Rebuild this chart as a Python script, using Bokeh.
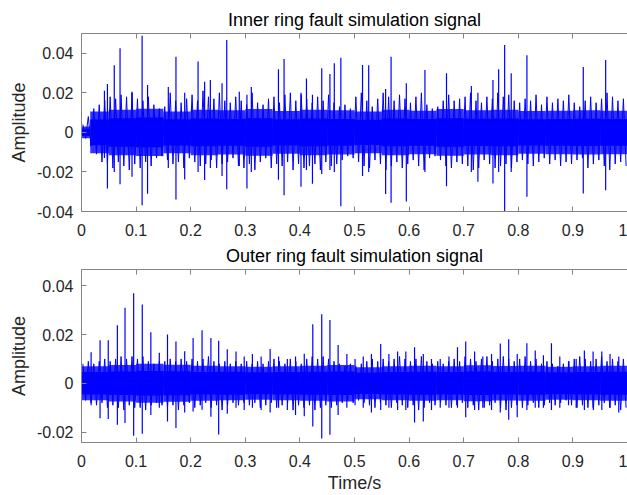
import numpy as np
from bokeh.plotting import figure
from bokeh.models import LinearAxis, FixedTicker, Range1d
from bokeh.layouts import column
from bokeh.embed import file_html
from bokeh.resources import INLINE

# ---------------- data ----------------
x_ticks = [0, 0.1, 0.2, 0.3, 0.4, 0.5, 0.6, 0.7, 0.8, 0.9, 1]
x_tick_labels = ["0", "0.1", "0.2", "0.3", "0.4", "0.5", "0.6", "0.7", "0.8", "0.9", "1"]

inner_y_ticks = [-0.04, -0.02, 0, 0.02, 0.04]
inner_y_tick_labels = ["-0.04", "-0.02", "0", "0.02", "0.04"]
outer_y_ticks = [-0.02, 0, 0.02, 0.04]
outer_y_tick_labels = ["-0.02", "0", "0.02", "0.04"]

titles = ["Inner ring fault simulation signal", "Outer ring fault simulation signal"]

# time grid of 0.01 s bins (bin centres)
bin_t = np.arange(100) * 0.01 + 0.005

inner_up = [0.004, 0.008, 0.012, 0.014, 0.016, 0.018, 0.017, 0.019, 0.018, 0.020,
            0.017, 0.016, 0.018, 0.014, 0.012, 0.013, 0.020, 0.016, 0.015, 0.017,
            0.019, 0.016, 0.021, 0.018, 0.017, 0.020, 0.016, 0.015, 0.018, 0.016,
            0.014, 0.020, 0.015, 0.014, 0.017, 0.018, 0.015, 0.019, 0.020, 0.016,
            0.019, 0.017, 0.015, 0.018, 0.016, 0.019, 0.015, 0.013, 0.014, 0.012,
            0.018, 0.020, 0.016, 0.013, 0.017, 0.020, 0.018, 0.016, 0.019, 0.017,
            0.015, 0.018, 0.020, 0.014, 0.012, 0.013, 0.016, 0.019, 0.016, 0.017,
            0.018, 0.020, 0.016, 0.015, 0.018, 0.017, 0.020, 0.018, 0.019, 0.016,
            0.015, 0.017, 0.016, 0.019, 0.014, 0.018, 0.015, 0.017, 0.016, 0.019,
            0.015, 0.013, 0.016, 0.018, 0.015, 0.017, 0.020, 0.018, 0.016, 0.017]
inner_dn = [-0.003, -0.007, -0.011, -0.015, -0.016, -0.018, -0.015, -0.017, -0.019, -0.016,
            -0.018, -0.015, -0.017, -0.013, -0.012, -0.014, -0.016, -0.015, -0.018, -0.013,
            -0.015, -0.017, -0.016, -0.014, -0.018, -0.016, -0.015, -0.013, -0.017, -0.018,
            -0.016, -0.019, -0.015, -0.013, -0.018, -0.016, -0.017, -0.015, -0.019, -0.016,
            -0.018, -0.017, -0.016, -0.019, -0.015, -0.017, -0.016, -0.014, -0.012, -0.013,
            -0.015, -0.017, -0.018, -0.014, -0.016, -0.019, -0.017, -0.015, -0.018, -0.016,
            -0.014, -0.017, -0.019, -0.013, -0.012, -0.014, -0.017, -0.018, -0.015, -0.016,
            -0.017, -0.019, -0.018, -0.014, -0.016, -0.018, -0.017, -0.016, -0.018, -0.015,
            -0.014, -0.016, -0.017, -0.015, -0.013, -0.016, -0.014, -0.017, -0.015, -0.016,
            -0.014, -0.013, -0.018, -0.016, -0.014, -0.017, -0.019, -0.016, -0.015, -0.017]

inner_band_edges = [0, 0.016, 0.05, 0.1, 0.15, 0.2, 0.25, 0.3, 0.35, 0.4, 0.45, 0.5,
                    0.55, 0.6, 0.65, 0.7, 0.75, 0.8, 0.85, 0.9, 0.95, 1.0]
inner_core_half = [0.0018, 0.0065, 0.0072, 0.0075, 0.0066, 0.0070, 0.0068, 0.0072, 0.0066, 0.0070, 0.0068,
                   0.0064, 0.0070, 0.0068, 0.0072, 0.0069, 0.0070, 0.0066, 0.0068, 0.0069, 0.0068]
inner_halo_half = [0.0030, 0.0105, 0.0115, 0.0120, 0.0105, 0.0115, 0.0112, 0.0118, 0.0108, 0.0115, 0.0112,
                   0.0105, 0.0115, 0.0110, 0.0118, 0.0112, 0.0115, 0.0108, 0.0110, 0.0112, 0.0110]

inner_spike_t = [0.042, 0.0475, 0.060, 0.0706, 0.0925, 0.111, 0.121, 0.159, 0.173, 0.189,
                 0.2135, 0.2255, 0.236, 0.2574, 0.266, 0.289, 0.303, 0.311, 0.3607, 0.371,
                 0.402, 0.412, 0.423, 0.440, 0.455, 0.463, 0.475, 0.5147, 0.526, 0.557,
                 0.567, 0.5949, 0.629, 0.6685, 0.714, 0.726, 0.7536, 0.764, 0.775, 0.787,
                 0.8158, 0.919, 0.96]
inner_spike_up = [0.021, 0.0245, 0.034, 0.0425, 0.0206, 0.0488, 0.0239, 0.023, 0.0383, 0.020,
                  0.0358, 0.0256, 0.0265, 0.0248, 0.0467, 0.0206, 0.019, 0.023, 0.0319, 0.0371,
                  0.020, 0.0273, 0.019, 0.0324, 0.0295, 0.0349, 0.0378, 0.0341, 0.034, 0.022,
                  0.0383, 0.0248, 0.0315, 0.0299, 0.0234, 0.020, 0.0265, 0.0319, 0.0442, 0.0299,
                  0.039, 0.033, 0.0366]
inner_spike_dn = [-0.013, -0.0284, -0.020, -0.0262, -0.0224, -0.0368, -0.031, -0.018, -0.0339, -0.0238,
                  -0.020, -0.0241, -0.018, -0.022, -0.0288, -0.017, -0.0284, -0.020, -0.024, -0.0318,
                  -0.0275, -0.019, -0.026, -0.021, -0.019, -0.020, -0.0373, -0.022, -0.020, -0.0312,
                  -0.0356, -0.035, -0.020, -0.0272, -0.020, -0.025, -0.0258, -0.020, -0.040, -0.020,
                  -0.0326, -0.0309, -0.0293]

outer_up = [0.008, 0.009, 0.008, 0.009, 0.010, 0.009, 0.010, 0.011, 0.010, 0.011,
            0.010, 0.011, 0.009, 0.008, 0.009, 0.009, 0.010, 0.009, 0.010, 0.009,
            0.010, 0.009, 0.010, 0.011, 0.009, 0.008, 0.009, 0.008, 0.009, 0.008,
            0.009, 0.008, 0.009, 0.008, 0.009, 0.010, 0.009, 0.008, 0.010, 0.009,
            0.008, 0.010, 0.011, 0.010, 0.011, 0.010, 0.009, 0.008, 0.007, 0.008,
            0.007, 0.008, 0.009, 0.010, 0.009, 0.010, 0.009, 0.010, 0.011, 0.010,
            0.009, 0.010, 0.011, 0.009, 0.008, 0.009, 0.008, 0.009, 0.010, 0.009,
            0.011, 0.010, 0.009, 0.010, 0.011, 0.009, 0.010, 0.011, 0.010, 0.009,
            0.010, 0.011, 0.009, 0.010, 0.008, 0.009, 0.008, 0.007, 0.008, 0.009,
            0.010, 0.011, 0.010, 0.009, 0.010, 0.011, 0.009, 0.010, 0.009, 0.010]
outer_dn = [-0.007, -0.008, -0.009, -0.008, -0.010, -0.009, -0.010, -0.011, -0.009, -0.010,
            -0.010, -0.011, -0.009, -0.008, -0.009, -0.010, -0.009, -0.011, -0.009, -0.008,
            -0.010, -0.009, -0.008, -0.010, -0.009, -0.011, -0.009, -0.008, -0.009, -0.008,
            -0.009, -0.008, -0.010, -0.009, -0.008, -0.010, -0.009, -0.008, -0.011, -0.009,
            -0.010, -0.009, -0.011, -0.010, -0.009, -0.010, -0.009, -0.008, -0.007, -0.008,
            -0.007, -0.008, -0.009, -0.010, -0.008, -0.009, -0.010, -0.008, -0.009, -0.010,
            -0.009, -0.011, -0.010, -0.008, -0.009, -0.008, -0.009, -0.010, -0.009, -0.008,
            -0.010, -0.009, -0.011, -0.010, -0.009, -0.008, -0.010, -0.011, -0.010, -0.009,
            -0.010, -0.009, -0.008, -0.010, -0.009, -0.008, -0.009, -0.008, -0.007, -0.009,
            -0.010, -0.009, -0.010, -0.011, -0.009, -0.008, -0.010, -0.009, -0.011, -0.010]

outer_band_edges = [0, 0.05, 0.1, 0.15, 0.2, 0.25, 0.3, 0.35, 0.4, 0.45, 0.5,
                    0.55, 0.6, 0.65, 0.7, 0.75, 0.8, 0.85, 0.9, 0.95, 1.0]
outer_core_half = [0.0046, 0.0048, 0.0050, 0.0049, 0.0046, 0.0047, 0.0045, 0.0046, 0.0047, 0.0048,
                   0.0044, 0.0046, 0.0047, 0.0046, 0.0048, 0.0046, 0.0047, 0.0045, 0.0046, 0.0047]
outer_halo_half = [0.0070, 0.0075, 0.0080, 0.0076, 0.0072, 0.0070, 0.0068, 0.0070, 0.0072, 0.0075,
                   0.0066, 0.0070, 0.0072, 0.0070, 0.0074, 0.0071, 0.0072, 0.0068, 0.0070, 0.0072]

outer_spike_t = [0.0176, 0.034, 0.049, 0.0657, 0.0797, 0.0955, 0.1113, 0.127, 0.1425, 0.1575,
                 0.173, 0.189, 0.2044, 0.2208, 0.237, 0.2512, 0.267, 0.283, 0.298, 0.313,
                 0.329, 0.3455, 0.361, 0.377, 0.392, 0.408, 0.4236, 0.440, 0.455, 0.470,
                 0.486, 0.501, 0.516, 0.531, 0.548, 0.563, 0.579, 0.594, 0.610, 0.626,
                 0.641, 0.657, 0.673, 0.6886, 0.7037, 0.720, 0.735, 0.751, 0.767, 0.7824,
                 0.798, 0.8157, 0.831, 0.846, 0.8607, 0.876, 0.892, 0.906, 0.921, 0.937,
                 0.953, 0.968, 0.984]
outer_spike_up = [0.0127, 0.0177, 0.0177, 0.0238, 0.031, 0.037, 0.0323, 0.0209, 0.0125, 0.020,
                  0.0172, 0.0131, 0.0186, 0.0218, 0.0186, 0.0175, 0.014, 0.013, 0.011, 0.012,
                  0.011, 0.0141, 0.011, 0.010, 0.011, 0.0121, 0.0242, 0.0283, 0.026, 0.0157,
                  0.012, 0.010, 0.011, 0.012, 0.0161, 0.012, 0.013, 0.013, 0.0148, 0.012,
                  0.010, 0.010, 0.011, 0.0148, 0.0172, 0.013, 0.011, 0.012, 0.0163, 0.0181,
                  0.012, 0.0164, 0.0135, 0.0115, 0.0164, 0.011, 0.009, 0.010, 0.0135, 0.013,
                  0.013, 0.012, 0.011]
outer_spike_dn = [-0.009, -0.0143, -0.0147, -0.017, -0.0163, -0.0215, -0.0207, -0.013, -0.010, -0.0157,
                  -0.0184, -0.012, -0.0116, -0.0109, -0.0137, -0.021, -0.0125, -0.010, -0.011, -0.010,
                  -0.011, -0.012, -0.010, -0.011, -0.013, -0.0135, -0.0177, -0.0227, -0.0211, -0.013,
                  -0.010, -0.009, -0.010, -0.012, -0.011, -0.010, -0.011, -0.011, -0.0161, -0.0157,
                  -0.011, -0.010, -0.010, -0.010, -0.0139, -0.011, -0.010, -0.011, -0.012, -0.015,
                  -0.0139, -0.011, -0.010, -0.010, -0.011, -0.010, -0.009, -0.010, -0.011, -0.010,
                  -0.011, -0.010, -0.012]

# ---------------- styling ----------------
FONT = "Liberation Sans"
AX = "#858585"
TXT = "#262626"
BLUE = "#0000ff"
FIG_W = 627


def top_axis(ticks, p):
    ax = LinearAxis(ticker=FixedTicker(ticks=ticks, minor_ticks=[]))
    ax.major_label_overrides = {t: "" for t in ticks}
    ax.major_label_text_font_size = "0px"
    ax.major_label_standoff = 0
    ax.major_tick_in = 5
    ax.major_tick_out = 0
    ax.minor_tick_in = 0
    ax.minor_tick_out = 0
    ax.axis_line_color = AX
    ax.major_tick_line_color = AX
    p.add_layout(ax, "above")


def make_fig(height, top_b, bottom_b, yr, yticks, ylabels, title, xlabel,
             band_edges, core_half, halo_half, up, dn, sp_t, sp_up, sp_dn):
    p = figure(width=FIG_W, height=height, x_range=Range1d(0, 1), y_range=Range1d(*yr),
               output_backend="svg", toolbar_location=None,
               min_border_left=81, min_border_right=0,
               min_border_top=top_b, min_border_bottom=bottom_b)
    p.xgrid.visible = False
    p.ygrid.visible = False
    p.outline_line_color = None
    p.background_fill_color = "white"
    p.border_fill_color = "white"

    p.title.text = title
    p.title.align = "center"
    p.title.text_font = FONT
    p.title.text_font_size = "18px"
    p.title.text_font_style = "normal"
    p.title.text_color = "#000000"
    p.title.standoff = 7

    half = np.array(halo_half)
    core = np.array(core_half)
    p.quad(left=band_edges[:-1], right=band_edges[1:], bottom=-half, top=half,
           fill_color=BLUE, fill_alpha=0.8, line_color=None)
    p.quad(left=band_edges[:-1], right=band_edges[1:], bottom=-core, top=core,
           fill_color=BLUE, fill_alpha=1.0, line_color=None)
    zx = np.column_stack([bin_t - 0.0025, bin_t + 0.0025]).ravel()
    zy = np.column_stack([up, dn]).ravel()
    p.line(zx, zy, line_color=BLUE, line_width=1, line_alpha=1.0)
    p.segment(x0=sp_t, y0=sp_dn, x1=sp_t, y1=sp_up, line_color=BLUE, line_width=1.2)

    xa = p.xaxis[0]
    xa.ticker = FixedTicker(ticks=x_ticks, minor_ticks=[])
    xa.major_label_overrides = dict(zip(x_ticks, x_tick_labels))
    xa.major_tick_in = 5
    xa.major_tick_out = 0
    xa.minor_tick_in = 0
    xa.minor_tick_out = 0
    xa.major_label_standoff = 12
    xa.axis_line_color = AX
    xa.major_tick_line_color = AX
    xa.major_label_text_font = FONT
    xa.major_label_text_font_size = "16px"
    xa.major_label_text_color = TXT
    if xlabel:
        xa.axis_label = xlabel
        xa.axis_label_text_font = FONT
        xa.axis_label_text_font_size = "18px"
        xa.axis_label_text_font_style = "normal"
        xa.axis_label_text_color = TXT
        xa.axis_label_standoff = 3

    ya = p.yaxis[0]
    ya.ticker = FixedTicker(ticks=yticks, minor_ticks=[])
    ya.major_label_overrides = dict(zip(yticks, ylabels))
    ya.major_tick_in = 5
    ya.major_tick_out = 0
    ya.minor_tick_in = 0
    ya.minor_tick_out = 0
    ya.major_label_standoff = 8
    ya.axis_line_color = AX
    ya.major_tick_line_color = AX
    ya.major_label_text_font = FONT
    ya.major_label_text_font_size = "16px"
    ya.major_label_text_color = TXT
    ya.axis_label = "Amplitude"
    ya.axis_label_text_font = FONT
    ya.axis_label_text_font_size = "18px"
    ya.axis_label_text_font_style = "normal"
    ya.axis_label_text_color = TXT
    ya.axis_label_standoff = 5

    top_axis(x_ticks, p)
    return p


p1 = make_fig(240, 33, 29, (-0.04, 0.05), inner_y_ticks, inner_y_tick_labels, titles[0], None,
              inner_band_edges, inner_core_half, inner_halo_half, inner_up, inner_dn,
              inner_spike_t, inner_spike_up, inner_spike_dn)
p2 = make_fig(255, 29, 49, (-0.0243, 0.0467), outer_y_ticks, outer_y_tick_labels, titles[1], "Time/s",
              outer_band_edges, outer_core_half, outer_halo_half, outer_up, outer_dn,
              outer_spike_t, outer_spike_up, outer_spike_dn)

layout = column(p1, p2, spacing=0)
open("out.html", "w").write(file_html(layout, INLINE))
